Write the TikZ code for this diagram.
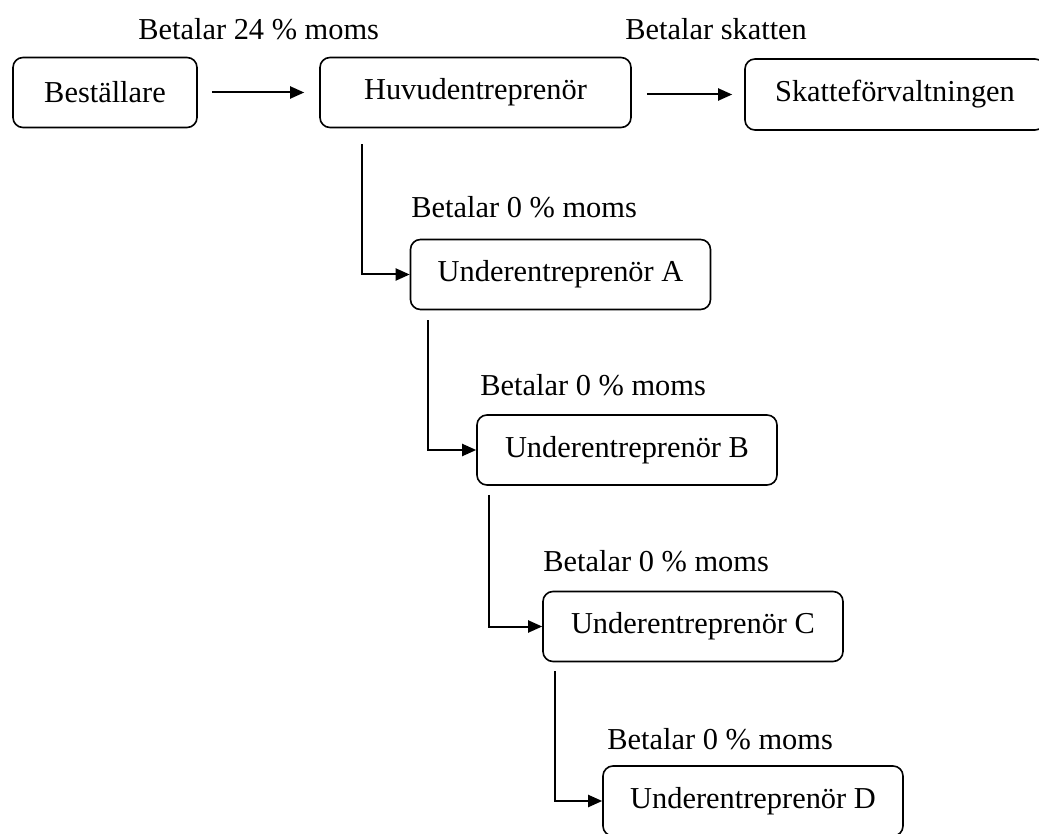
\documentclass[tikz,border=0pt]{standalone}
\usepackage{fontspec}
\setmainfont{Liberation Serif}
\usetikzlibrary{positioning, calc, arrows.meta}

\tikzset{
    box/.style={draw, line width=0.8pt, rounded corners=5pt, inner sep=0pt,
                minimum height=35pt},
    lbl/.style={inner sep=0pt, anchor=base west},
    flow/.style={line width=1pt, -{Triangle[length=7pt,width=6pt]}}
}

\begin{document}
\begin{tikzpicture}[x=0.5pt, y=-0.5pt, font=\fontsize{15.2}{18}\selectfont]

    \useasboundingbox (0,0) rectangle (1039,834);

    % --- TOP ROW ---
    \node[box, minimum width=92pt]    (best)  at (105,92.5)  {Beställare};
    \node[box, minimum width=155.5pt] (huvud) at (475.5,92.5) {Huvudentreprenör};
    \node[box, minimum width=150pt, minimum height=35.5pt] (skatt) at (895,94.5) {Skatteförvaltningen};

    % labels over the top arrows
    \node[lbl] (moms24) at (138,40) {Betalar 24 \% moms};
    \node[lbl] (skattlbl) at (625,40) {Betalar skatten};

    % --- SUBCONTRACTOR CHAIN ---
    \node[box, minimum width=150pt] (ua) at (560.5,274.5) {Underentreprenör A};
    \node[box, minimum width=150pt] (ub) at (627,450)     {Underentreprenör B};
    \node[box, minimum width=150pt] (uc) at (693,626.5)   {Underentreprenör C};
    \node[box, minimum width=150pt] (ud) at (753,801)     {Underentreprenör D};

    % labels over each subcontractor
    \node[lbl] (momsA) at (411,218) {Betalar 0 \% moms};
    \node[lbl] (momsB) at (480,395) {Betalar 0 \% moms};
    \node[lbl] (momsC) at (543,571) {Betalar 0 \% moms};
    \node[lbl] (momsD) at (607,749) {Betalar 0 \% moms};

    % --- ARROWS ---
    % Top row
    \draw[flow, shorten <=7pt, shorten >=7.5pt] (best.east) -- (best.east -| huvud.west);
    \draw[flow, shorten <=7.5pt, shorten >=6pt] (huvud.east |- skatt.west) -- (skatt.west);

    % Elbow arrows down the chain
    \draw[flow] ([xshift=21.5pt,yshift=-8pt]huvud.south west) |- (ua.west);
    \draw[flow] ([xshift=9pt,yshift=-5pt]ua.south west) |- (ub.west);
    \draw[flow] ([xshift=6.5pt,yshift=-4.5pt]ub.south west) |- (uc.west);
    \draw[flow] ([xshift=6.5pt,yshift=-4.5pt]uc.south west) |- (ud.west);

\end{tikzpicture}
\end{document}
